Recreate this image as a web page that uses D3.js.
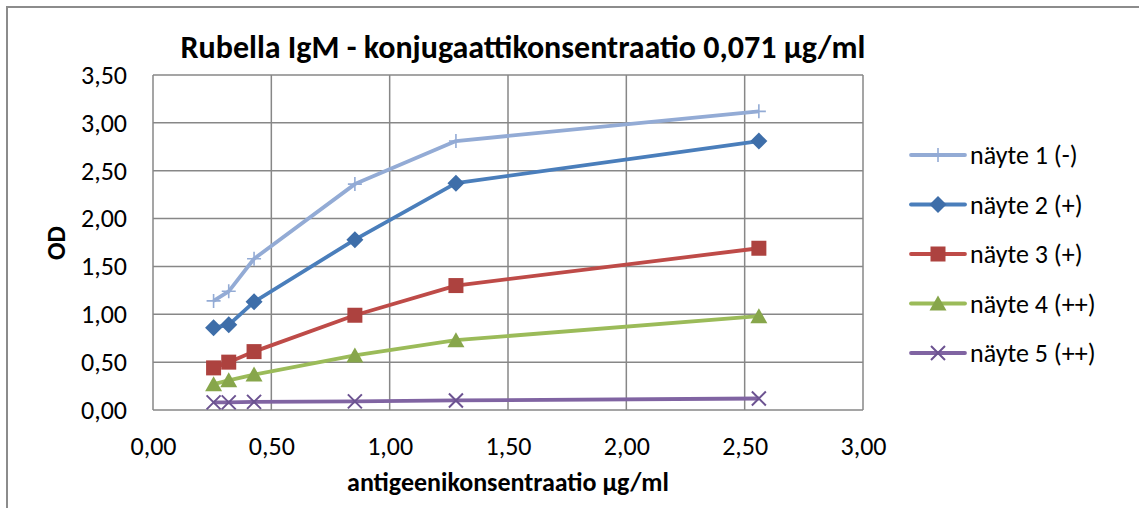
<!DOCTYPE html>
<html>
<head>
<meta charset="utf-8">
<script src="https://cdn.jsdelivr.net/npm/d3@7"></script>
<style>
  body { margin: 0; background: #fff; }
  #chart { width: 1139px; height: 508px; }
  text { font-family: Carlito, Lato, "Open Sans", sans-serif; fill: #000; }
</style>
</head>
<body>
<div id="chart"></div>
<script>
const conc = [0.256, 0.32, 0.427, 0.853, 1.28, 2.56]
const sample1 = [1.14, 1.24, 1.58, 2.36, 2.81, 3.12]
const sample2 = [0.86, 0.89, 1.13, 1.78, 2.37, 2.81]
const sample3 = [0.44, 0.50, 0.61, 0.99, 1.30, 1.69]
const sample4 = [0.27, 0.31, 0.37, 0.57, 0.73, 0.98]
const sample5 = [0.08, 0.08, 0.085, 0.09, 0.10, 0.12]
const series_names = ["näyte 1 (-)", "näyte 2 (+)", "näyte 3 (+)", "näyte 4 (++)", "näyte 5 (++)"]
const x_ticks = [0, 0.5, 1, 1.5, 2, 2.5, 3]
const y_ticks = [0, 0.5, 1, 1.5, 2, 2.5, 3, 3.5]

const series = [
    { name: series_names[0], values: sample1, line: "#93abd5", fill: "#93abd5", marker: "plus" },
    { name: series_names[1], values: sample2, line: "#4a7ebb", fill: "#3e6ea9", marker: "diamond" },
    { name: series_names[2], values: sample3, line: "#be4b48", fill: "#ad423f", marker: "square" },
    { name: series_names[3], values: sample4, line: "#9bbb59", fill: "#87a64b", marker: "triangle" },
    { name: series_names[4], values: sample5, line: "#8064a2", fill: "#6c5391", marker: "cross" }
]

const fmt = v => d3.format(".2f")(v).replace(".", ",")

const svg = d3.select("#chart").append("svg")
    .attr("width", 1139)
    .attr("height", 508)

// outer chart border (runs off the right/bottom edge)
svg.append("rect")
    .attr("x", 7).attr("y", 7)
    .attr("width", 1150).attr("height", 520)
    .attr("fill", "none")
    .attr("stroke", "#8c8c8c")
    .attr("stroke-width", 2)

const plot_left = 153, plot_right = 863, plot_top = 75, plot_bottom = 410

const x = d3.scaleLinear().domain([0, 3]).range([plot_left, plot_right])
const y = d3.scaleLinear().domain([0, 3.5]).range([plot_bottom, plot_top])

const grid = svg.append("g")
grid.selectAll(".vg").data(x_ticks).enter().append("line")
    .attr("x1", d => x(d)).attr("x2", d => x(d))
    .attr("y1", plot_top).attr("y2", plot_bottom)
    .attr("stroke", "#878787").attr("stroke-width", 1.5)
grid.selectAll(".hg").data(y_ticks).enter().append("line")
    .attr("x1", plot_left).attr("x2", plot_right)
    .attr("y1", d => y(d)).attr("y2", d => y(d))
    .attr("stroke", "#878787").attr("stroke-width", 1.5)

svg.append("g")
    .attr("transform", `translate(${plot_left},0)`)
    .call(d3.axisLeft(y).tickValues(y_ticks).tickFormat(fmt).tickSize(0).tickPadding(26))
    .call(g => g.select(".domain").remove())
    .selectAll("text")
    .attr("font-size", "26px")
    .attr("font-family", "Carlito, Lato, sans-serif")

svg.append("g")
    .attr("transform", `translate(0,${plot_bottom})`)
    .call(d3.axisBottom(x).tickValues(x_ticks).tickFormat(fmt).tickSize(0).tickPadding(27))
    .call(g => g.select(".domain").remove())
    .selectAll("text")
    .attr("font-size", "26px")
    .attr("font-family", "Carlito, Lato, sans-serif")

function marker(g, type, fill) {
    if (type === "plus") {
        g.append("path").attr("d", "M-7,0H7M0,-7V7")
            .attr("stroke", fill).attr("stroke-width", 1.6)
    } else if (type === "cross") {
        g.append("path").attr("d", "M-7,-7L7,7M-7,7L7,-7")
            .attr("stroke", fill).attr("stroke-width", 2)
    } else if (type === "diamond") {
        g.append("path").attr("d", "M0,-8.5L8.5,0L0,8.5L-8.5,0Z").attr("fill", fill)
    } else if (type === "square") {
        g.append("rect").attr("x", -7.5).attr("y", -7.5).attr("width", 15).attr("height", 15)
            .attr("fill", fill)
    } else if (type === "triangle") {
        g.append("path").attr("d", "M0,-8L8.5,7L-8.5,7Z").attr("fill", fill)
    }
}

const line = d3.line()
    .x((d, i) => x(conc[i]))
    .y(d => y(d))

series.forEach(s => {
    svg.append("path")
        .datum(s.values)
        .attr("fill", "none")
        .attr("stroke", s.line)
        .attr("stroke-width", 3.8)
        .attr("stroke-linejoin", "round")
        .attr("d", line)
    s.values.forEach((v, i) => {
        const g = svg.append("g").attr("transform", `translate(${x(conc[i])},${y(v)})`)
        marker(g, s.marker, s.fill)
    })
})

// legend
const legend = svg.append("g")
series.forEach((s, i) => {
    const ly = 155 + i * 49.5
    legend.append("line")
        .attr("x1", 911).attr("x2", 965)
        .attr("y1", ly).attr("y2", ly)
        .attr("stroke", s.line).attr("stroke-width", 3.8)
        .attr("stroke-linecap", "round")
    const g = legend.append("g").attr("transform", `translate(938,${ly})`)
    marker(g, s.marker, s.fill)
    legend.append("text")
        .attr("x", 970).attr("y", ly)
        .attr("dy", "0.35em")
        .attr("font-size", "26px")
        .text(s.name)
})

svg.append("text")
    .attr("x", 523).attr("y", 47)
    .attr("dy", "0.35em")
    .attr("text-anchor", "middle")
    .attr("font-size", "32px")
    .attr("font-weight", "bold")
    .text("Rubella IgM - konjugaattikonsentraatio 0,071 µg/ml")

svg.append("text")
    .attr("x", (plot_left + plot_right) / 2).attr("y", 482)
    .attr("dy", "0.35em")
    .attr("text-anchor", "middle")
    .attr("font-size", "26px")
    .attr("font-weight", "bold")
    .text("antigeenikonsentraatio µg/ml")

svg.append("text")
    .attr("transform", "rotate(-90)")
    .attr("x", -243).attr("y", 56)
    .attr("dy", "0.35em")
    .attr("text-anchor", "middle")
    .attr("font-size", "26px")
    .attr("font-weight", "bold")
    .text("OD")
</script>
</body>
</html>
